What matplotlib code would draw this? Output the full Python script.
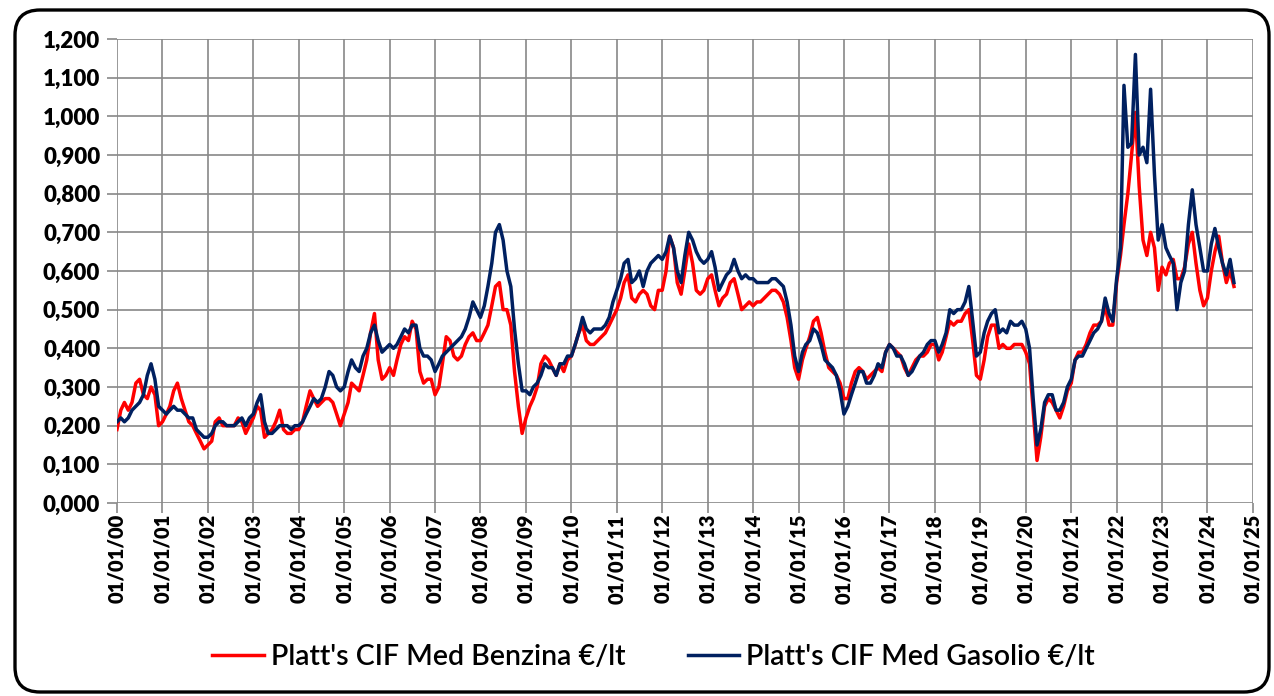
import numpy as np
import pandas as pd
import matplotlib
matplotlib.use("Agg")
import matplotlib.pyplot as plt
import matplotlib.dates as mdates
from matplotlib.patches import FancyBboxPatch
from matplotlib.ticker import FuncFormatter

# monthly values (first of each month, Jan 2000 - Aug 2024)
benzina = [
    0.19, 0.24, 0.26, 0.24, 0.26, 0.31, 0.32, 0.28, 0.27, 0.30, 0.28, 0.20,  # 2000
    0.21, 0.23, 0.25, 0.29, 0.31, 0.27, 0.24, 0.21, 0.20, 0.18, 0.16, 0.14,  # 2001
    0.15, 0.16, 0.21, 0.22, 0.20, 0.20, 0.20, 0.20, 0.22, 0.21, 0.18, 0.20,  # 2002
    0.22, 0.25, 0.24, 0.17, 0.18, 0.19, 0.21, 0.24, 0.19, 0.18, 0.18, 0.19,  # 2003
    0.19, 0.21, 0.25, 0.29, 0.27, 0.25, 0.26, 0.27, 0.27, 0.26, 0.23, 0.20,  # 2004
    0.23, 0.26, 0.31, 0.30, 0.29, 0.33, 0.37, 0.44, 0.49, 0.37, 0.32, 0.33,  # 2005
    0.35, 0.33, 0.37, 0.41, 0.43, 0.42, 0.47, 0.45, 0.34, 0.31, 0.32, 0.32,  # 2006
    0.28, 0.30, 0.36, 0.43, 0.42, 0.38, 0.37, 0.38, 0.41, 0.43, 0.44, 0.42,  # 2007
    0.42, 0.44, 0.46, 0.51, 0.56, 0.57, 0.50, 0.50, 0.46, 0.34, 0.25, 0.18,  # 2008
    0.22, 0.25, 0.27, 0.30, 0.36, 0.38, 0.37, 0.35, 0.33, 0.36, 0.34, 0.37,  # 2009
    0.38, 0.41, 0.44, 0.46, 0.42, 0.41, 0.41, 0.42, 0.43, 0.44, 0.46, 0.48,  # 2010
    0.50, 0.53, 0.57, 0.59, 0.53, 0.52, 0.54, 0.55, 0.54, 0.51, 0.50, 0.55,  # 2011
    0.55, 0.60, 0.69, 0.66, 0.57, 0.54, 0.60, 0.67, 0.62, 0.55, 0.54, 0.55,  # 2012
    0.58, 0.59, 0.55, 0.51, 0.53, 0.54, 0.57, 0.58, 0.54, 0.50, 0.51, 0.52,  # 2013
    0.51, 0.52, 0.52, 0.53, 0.54, 0.55, 0.55, 0.54, 0.52, 0.48, 0.42, 0.35,  # 2014
    0.32, 0.37, 0.40, 0.43, 0.47, 0.48, 0.44, 0.39, 0.35, 0.34, 0.33, 0.31,  # 2015
    0.27, 0.27, 0.31, 0.34, 0.35, 0.34, 0.32, 0.33, 0.34, 0.35, 0.34, 0.39,  # 2016
    0.41, 0.40, 0.39, 0.38, 0.35, 0.33, 0.35, 0.37, 0.38, 0.38, 0.39, 0.41,  # 2017
    0.41, 0.37, 0.39, 0.43, 0.47, 0.46, 0.47, 0.47, 0.49, 0.50, 0.42, 0.33,  # 2018
    0.32, 0.37, 0.43, 0.46, 0.46, 0.40, 0.41, 0.40, 0.40, 0.41, 0.41, 0.41,  # 2019
    0.39, 0.36, 0.24, 0.11, 0.17, 0.25, 0.27, 0.26, 0.24, 0.22, 0.25, 0.29,  # 2020
    0.31, 0.37, 0.39, 0.39, 0.41, 0.44, 0.46, 0.46, 0.47, 0.51, 0.46, 0.46,  # 2021
    0.57, 0.64, 0.72, 0.80, 0.90, 1.01, 0.82, 0.68, 0.64, 0.70, 0.66, 0.55,  # 2022
    0.61, 0.59, 0.62, 0.63, 0.58, 0.58, 0.61, 0.67, 0.70, 0.62, 0.55, 0.51,  # 2023
    0.53, 0.60, 0.65, 0.69, 0.62, 0.57, 0.60, 0.56,                          # 2024
]
gasolio = [
    0.21, 0.22, 0.21, 0.22, 0.24, 0.25, 0.26, 0.28, 0.33, 0.36, 0.32, 0.25,  # 2000
    0.24, 0.23, 0.24, 0.25, 0.24, 0.24, 0.23, 0.22, 0.22, 0.19, 0.18, 0.17,  # 2001
    0.17, 0.18, 0.20, 0.21, 0.21, 0.20, 0.20, 0.20, 0.21, 0.22, 0.20, 0.22,  # 2002
    0.23, 0.26, 0.28, 0.21, 0.18, 0.18, 0.19, 0.20, 0.20, 0.20, 0.19, 0.20,  # 2003
    0.20, 0.21, 0.23, 0.25, 0.27, 0.26, 0.27, 0.30, 0.34, 0.33, 0.30, 0.29,  # 2004
    0.30, 0.34, 0.37, 0.35, 0.34, 0.38, 0.40, 0.44, 0.46, 0.42, 0.39, 0.40,  # 2005
    0.41, 0.40, 0.41, 0.43, 0.45, 0.44, 0.46, 0.46, 0.40, 0.38, 0.38, 0.37,  # 2006
    0.34, 0.36, 0.38, 0.39, 0.40, 0.41, 0.42, 0.43, 0.45, 0.48, 0.52, 0.50,  # 2007
    0.48, 0.51, 0.56, 0.62, 0.70, 0.72, 0.68, 0.60, 0.56, 0.45, 0.36, 0.29,  # 2008
    0.29, 0.28, 0.30, 0.31, 0.33, 0.36, 0.35, 0.35, 0.33, 0.36, 0.36, 0.38,  # 2009
    0.38, 0.41, 0.44, 0.48, 0.45, 0.44, 0.45, 0.45, 0.45, 0.46, 0.48, 0.52,  # 2010
    0.55, 0.58, 0.62, 0.63, 0.57, 0.58, 0.60, 0.56, 0.60, 0.62, 0.63, 0.64,  # 2011
    0.63, 0.65, 0.69, 0.66, 0.60, 0.57, 0.64, 0.70, 0.68, 0.65, 0.63, 0.62,  # 2012
    0.63, 0.65, 0.61, 0.55, 0.57, 0.59, 0.60, 0.63, 0.60, 0.58, 0.59, 0.58,  # 2013
    0.58, 0.57, 0.57, 0.57, 0.57, 0.58, 0.58, 0.57, 0.56, 0.52, 0.46, 0.38,  # 2014
    0.34, 0.39, 0.41, 0.42, 0.45, 0.44, 0.41, 0.37, 0.36, 0.35, 0.33, 0.29,  # 2015
    0.23, 0.25, 0.28, 0.31, 0.34, 0.34, 0.31, 0.31, 0.33, 0.36, 0.35, 0.39,  # 2016
    0.41, 0.40, 0.38, 0.38, 0.36, 0.33, 0.34, 0.36, 0.38, 0.39, 0.41, 0.42,  # 2017
    0.42, 0.39, 0.41, 0.44, 0.50, 0.49, 0.50, 0.50, 0.52, 0.56, 0.47, 0.38,  # 2018
    0.39, 0.44, 0.47, 0.49, 0.50, 0.44, 0.45, 0.44, 0.47, 0.46, 0.46, 0.47,  # 2019
    0.45, 0.40, 0.27, 0.15, 0.19, 0.26, 0.28, 0.28, 0.24, 0.24, 0.26, 0.30,  # 2020
    0.32, 0.37, 0.38, 0.38, 0.40, 0.42, 0.44, 0.45, 0.47, 0.53, 0.49, 0.47,  # 2021
    0.58, 0.66, 1.08, 0.92, 0.93, 1.16, 0.90, 0.92, 0.88, 1.07, 0.85, 0.68,  # 2022
    0.72, 0.66, 0.64, 0.62, 0.50, 0.57, 0.60, 0.72, 0.81, 0.72, 0.66, 0.60,  # 2023
    0.60, 0.67, 0.71, 0.66, 0.62, 0.59, 0.63, 0.57,                          # 2024
]
dates = pd.date_range("2000-01-01", periods=len(benzina), freq="MS")
years = pd.date_range("2000-01-01", "2025-01-01", freq="YS")
yticks = np.arange(0, 1.21, 0.1)

plt.rcParams['font.family'] = ['Lato', 'DejaVu Sans']

fig = plt.figure(figsize=(12.74, 6.96), dpi=100)
ax = fig.add_axes([0.0918, 0.2773, 0.8917, 0.6667])

ax.plot(dates, benzina, color='#ff0000', lw=2.5, label="Platt's CIF Med Benzina €/lt")
ax.plot(dates, gasolio, color='#002060', lw=2.5, label="Platt's CIF Med Gasolio €/lt")

ax.set_xlim(years[0], years[-1])
ax.set_ylim(0, 1.2)
ax.set_xticks(years)
ax.xaxis.set_major_formatter(mdates.DateFormatter('%d/%m/%y'))
ax.set_yticks(yticks)
ax.yaxis.set_major_formatter(FuncFormatter(lambda v, p: f"{v:.3f}".replace('.', ',')))
ax.grid(True, color='#888888', lw=1.2)
ax.set_axisbelow(True)
for s in ax.spines.values():
    s.set_visible(False)
ax.tick_params(axis='both', color='#888888', width=1.2, length=7)
ax.tick_params(axis='y', pad=5, labelsize=16)
ax.tick_params(axis='x', rotation=90, pad=1, labelsize=14.5)
for lab in ax.get_xticklabels() + ax.get_yticklabels():
    lab.set_fontweight('heavy')

fig.legend(loc='center', bbox_to_anchor=(0.513, 0.056), ncol=2, frameon=False,
           prop={'size': 20.5, 'weight': 'semibold'},
           handlelength=1.8, handletextpad=0.25, columnspacing=2.2)

frame = FancyBboxPatch((0.15, 0.04), 12.54, 6.82, boxstyle="round,pad=0,rounding_size=0.25",
                       transform=fig.dpi_scale_trans, fill=False, ec='black', lw=2.4)
fig.patches.append(frame)

fig.savefig('out.png', dpi=100)
